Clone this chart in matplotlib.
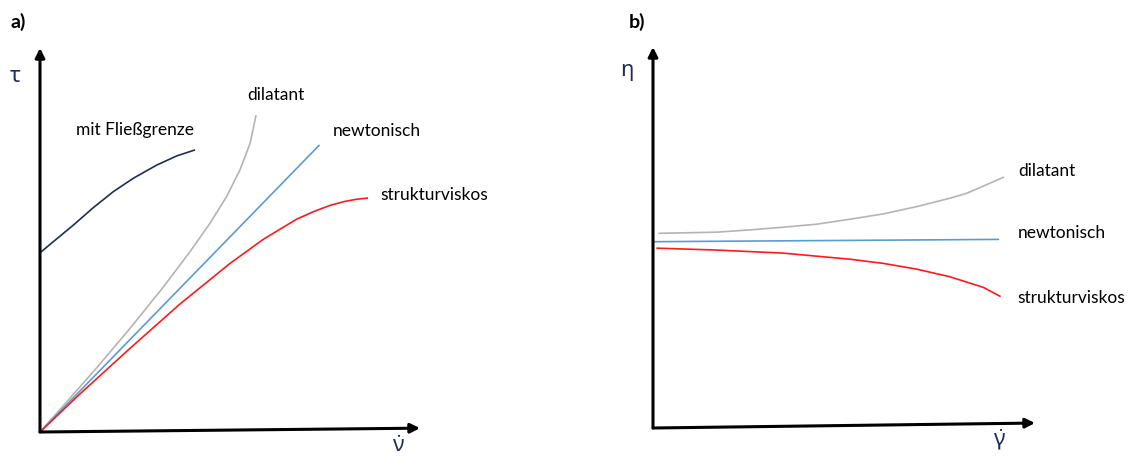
import matplotlib.pyplot as plt

plt.rcParams['font.family'] = ['Lato', 'DejaVu Sans']
plt.rcParams['mathtext.fontset'] = 'custom'
plt.rcParams['mathtext.rm'] = 'Noto Sans'
plt.rcParams['mathtext.it'] = 'Noto Sans'

# panel a: shear stress vs shear rate (arbitrary units 0..100)
a_fliess_x = [0.4, 4.4, 8.8, 14.0, 19.3, 24.6, 30.7, 36.0, 40.6]
a_fliess_y = [47.0, 50.3, 53.9, 58.4, 62.6, 66.1, 69.5, 71.9, 73.4]
a_dil_x = [0, 6.1, 14.9, 23.7, 32.5, 39.5, 44.7, 49.1, 52.6, 55.3, 56.8]
a_dil_y = [0, 6.8, 16.7, 27.0, 37.8, 47.0, 54.3, 61.3, 68.2, 75.2, 82.3]
a_newt_x = [0, 73.4]
a_newt_y = [0, 74.6]
a_struk_x = [0, 10.5, 23.7, 36.8, 50.0, 58.8, 67.5, 72.0, 76.3, 80.0, 83.2, 86.1]
a_struk_y = [0, 9.9, 21.8, 33.3, 43.9, 50.2, 55.4, 57.4, 59.0, 60.0, 60.6, 60.9]

# panel b: viscosity vs shear rate
b_dil_x = [1.6, 16.7, 25.4, 34.1, 42.9, 51.6, 60.3, 69.0, 77.7, 82.1, 86.5, 91.7]
b_dil_y = [51.1, 51.4, 52.0, 52.7, 53.5, 54.8, 56.2, 58.1, 60.3, 61.6, 63.5, 65.8]
b_newt_x = [0.5, 90.4]
b_newt_y = [48.9, 49.5]
b_struk_x = [1.1, 16.7, 34.1, 51.6, 60.3, 69.0, 77.7, 82.1, 86.5, 90.8]
b_struk_y = [47.2, 46.7, 45.9, 44.3, 43.2, 41.7, 39.7, 38.3, 36.9, 34.6]

NAVY = '#1f2d5a'
GRAY = '#b4b4b4'
BLUE = '#5b9bd5'
RED = '#ff1a1a'
TXT = 12.5

fig = plt.figure(figsize=(11.29, 4.57), dpi=100)
ax1 = fig.add_axes([40 / 1129, 25 / 457, 380 / 1129, 384 / 457])
ax2 = fig.add_axes([653 / 1129, 29 / 457, 382 / 1129, 381 / 457])

for ax in (ax1, ax2):
    ax.set_xlim(0, 100)
    ax.set_ylim(0, 100)
    ax.axis('off')

def draw_axes(ax, xend_y):
    ax.annotate('', xy=(0, 100), xytext=(0, 0), annotation_clip=False,
                arrowprops=dict(arrowstyle='-|>', lw=2.2, color='black',
                                mutation_scale=14, shrinkA=0, shrinkB=0))
    ax.annotate('', xy=(100, xend_y), xytext=(0, 0), annotation_clip=False,
                arrowprops=dict(arrowstyle='-|>', lw=2.2, color='black',
                                mutation_scale=14, shrinkA=0, shrinkB=0))

def sym(ax, x, y, s):
    ax.text(x, y, s, fontsize=16, color=NAVY, ha='center', va='center')

# --- panel a ---
draw_axes(ax1, 1.0)
ax1.plot(a_fliess_x, a_fliess_y, color=NAVY, lw=1.2)
ax1.plot(a_dil_x, a_dil_y, color=GRAY, lw=1.2)
ax1.plot(a_newt_x, a_newt_y, color=BLUE, lw=1.2)
ax1.plot(a_struk_x, a_struk_y, color=RED, lw=1.2)

ax1.text(9.5, 78.6, 'mit Fließgrenze', fontsize=TXT, va='center')
ax1.text(54.5, 87.8, 'dilatant', fontsize=TXT, va='center')
ax1.text(77.1, 78.4, 'newtonisch', fontsize=TXT, va='center')
ax1.text(89.5, 61.7, 'strukturviskos', fontsize=TXT, va='center')
sym(ax1, -6.6, 92.7, r'$\tau$')
sym(ax1, 94.2, -3.4, r'$\dot{\nu}$')

# --- panel b ---
draw_axes(ax2, 1.3)
ax2.plot(b_dil_x, b_dil_y, color=GRAY, lw=1.2)
ax2.plot(b_newt_x, b_newt_y, color=BLUE, lw=1.2)
ax2.plot(b_struk_x, b_struk_y, color=RED, lw=1.2)

ax2.text(95.5, 67.5, 'dilatant', fontsize=TXT, va='center')
ax2.text(95.5, 51.2, 'newtonisch', fontsize=TXT, va='center')
ax2.text(95.5, 34.1, 'strukturviskos', fontsize=TXT, va='center')
sym(ax2, -6.8, 93.4, r'$\eta$')
sym(ax2, 90.8, -2.9, r'$\dot{\gamma}$')

fig.text(18 / 1129, 1 - 22 / 457, 'a)', fontsize=14, fontweight='bold',
         ha='center', va='center')
fig.text(637 / 1129, 1 - 22 / 457, 'b)', fontsize=14, fontweight='bold',
         ha='center', va='center')

fig.savefig('out.png', dpi=100)
